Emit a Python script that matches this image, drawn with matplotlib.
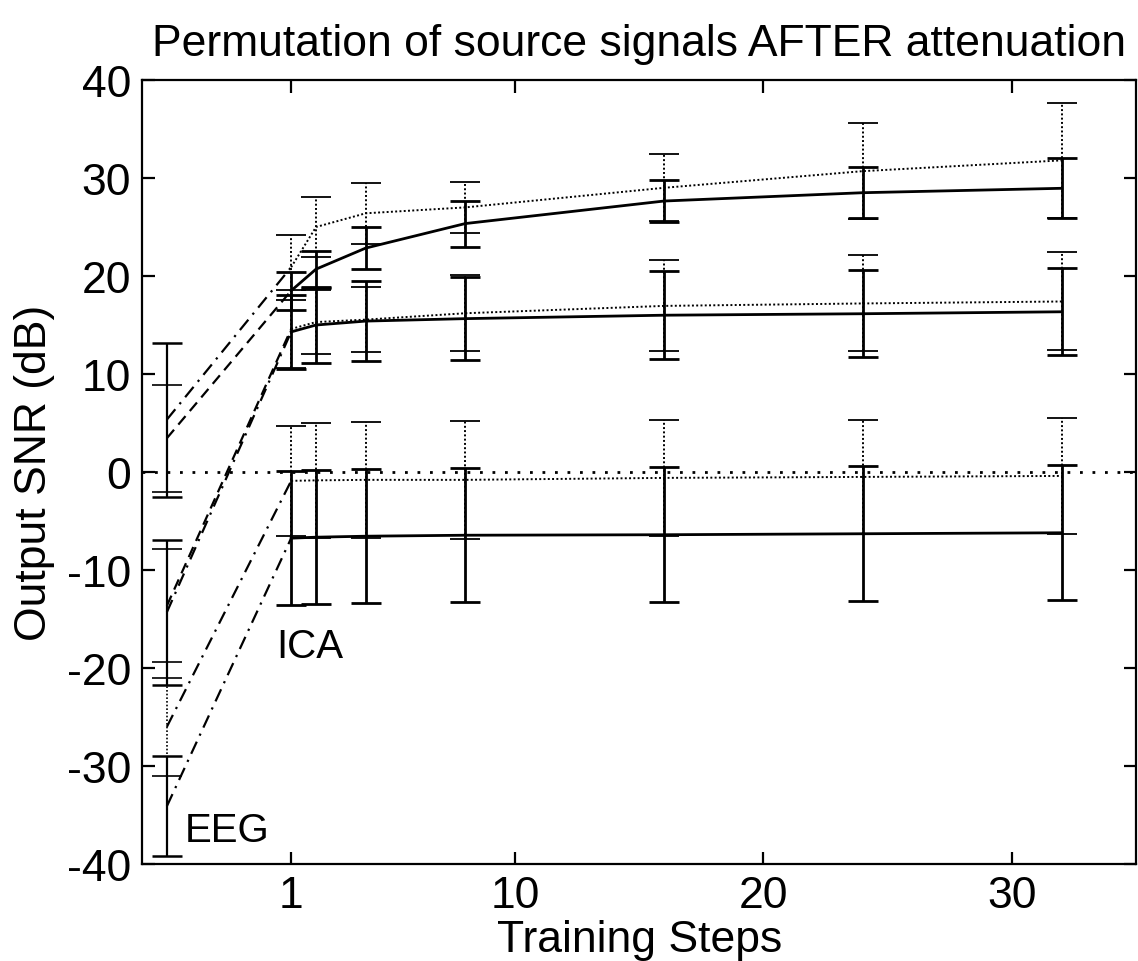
import matplotlib
matplotlib.use('Agg')
import matplotlib.pyplot as plt

plt.rcParams['font.family'] = ['Liberation Sans', 'DejaVu Sans']
plt.rcParams['axes.unicode_minus'] = False

# training steps after ICA, EEG shown at x=-4
steps = [1, 2, 4, 8, 16, 24, 32]
eeg_x = -4

# six output channels: SNR mean and error bar half width (dB)
a_snr = [20.9, 25.0, 26.4, 27.0, 29.0, 30.7, 31.8]
a_err = [3.3, 3.1, 3.1, 2.6, 3.4, 4.9, 5.9]
b_snr = [18.5, 20.7, 22.85, 25.35, 27.65, 28.5, 28.95]
b_err = [1.95, 1.9, 2.15, 2.35, 2.15, 2.6, 3.05]
c_snr = [14.6, 15.3, 15.55, 16.2, 16.95, 17.2, 17.4]
c_err = [4.0, 3.3, 3.35, 3.9, 4.65, 4.9, 5.0]
d_snr = [14.3, 15.0, 15.4, 15.65, 16.0, 16.15, 16.35]
d_err = [3.8, 3.9, 4.1, 4.25, 4.5, 4.45, 4.45]
e_snr = [-0.9, -0.85, -0.8, -0.8, -0.6, -0.5, -0.4]
e_err = [5.6, 5.85, 5.9, 6.0, 5.9, 5.8, 5.9]
f_snr = [-6.75, -6.65, -6.55, -6.45, -6.4, -6.3, -6.2]
f_err = [6.85, 6.85, 6.85, 6.85, 6.9, 6.9, 6.9]

# EEG (before ICA) values for the same channels
eeg_snr = [5.35, 3.45, -13.65, -14.3, -26.0, -34.1]
eeg_err = [7.85, 5.45, 5.75, 7.4, 5.0, 5.1]

xticks = [1, 10, 20, 30]
yticks = [-40, -30, -20, -10, 0, 10, 20, 30, 40]

snr = [a_snr, b_snr, c_snr, d_snr, e_snr, f_snr]
err = [a_err, b_err, c_err, d_err, e_err, f_err]
dotted = (0, (1, 1.2))
dashdot = (0, (6, 3, 1, 3))
series_ls = [dotted, '-', dotted, '-', dotted, '-']
eeg_ls = ['-', dotted, dotted, '-', dotted, '-']
link_ls = [dashdot, (0, (5, 3)), (0, (5, 3)), dashdot, dashdot, dashdot]

fig = plt.figure(figsize=(11.38, 9.62), dpi=100)
ax = fig.add_axes([0.1248, 0.1008, 0.8737, 0.815])

ax.axhline(0, color='k', lw=2, ls=(0, (1, 3.5)))

for i in range(6):
    solid = series_ls[i] == '-'
    lw = 2.0 if solid else 1.4
    # EEG -> ICA link
    ax.plot([eeg_x, steps[0]], [eeg_snr[i], snr[i][0]], color='k',
            lw=1.6, ls=link_ls[i])
    eb = ax.errorbar(steps, snr[i], yerr=err[i], color='k', lw=lw,
                     ls=series_ls[i], elinewidth=lw, capsize=11,
                     capthick=2.0 if solid else 1.3)
    if not solid:
        eb[2][0].set_linestyle(dotted)
    # EEG error bar
    esolid = eeg_ls[i] == '-'
    eb2 = ax.errorbar([eeg_x], [eeg_snr[i]], yerr=[eeg_err[i]], color='k',
                      ls='none', elinewidth=1.6 if esolid else 1.2,
                      capsize=11, capthick=1.8 if esolid else 1.2)
    if not esolid:
        eb2[2][0].set_linestyle(dotted)

ax.text(0.4, -18.9, 'ICA', fontsize=29, va='baseline')
ax.text(-3.3, -37.6, 'EEG', fontsize=29, va='baseline')

ax.set_xlim(-5, 35)
ax.set_ylim(-40, 40)
ax.set_xticks(xticks)
ax.set_yticks(yticks)
ax.tick_params(direction='in', length=9, width=1.6, labelsize=32, pad=8,
               top=True, right=True)
for s in ax.spines.values():
    s.set_linewidth(1.6)

ax.set_xlabel('Training Steps', fontsize=32, labelpad=2)
ax.set_ylabel('Output SNR (dB)', fontsize=32, labelpad=8)
ax.set_title('Permutation of source signals AFTER attenuation', fontsize=32, pad=18)

fig.savefig('out.png', dpi=100)
